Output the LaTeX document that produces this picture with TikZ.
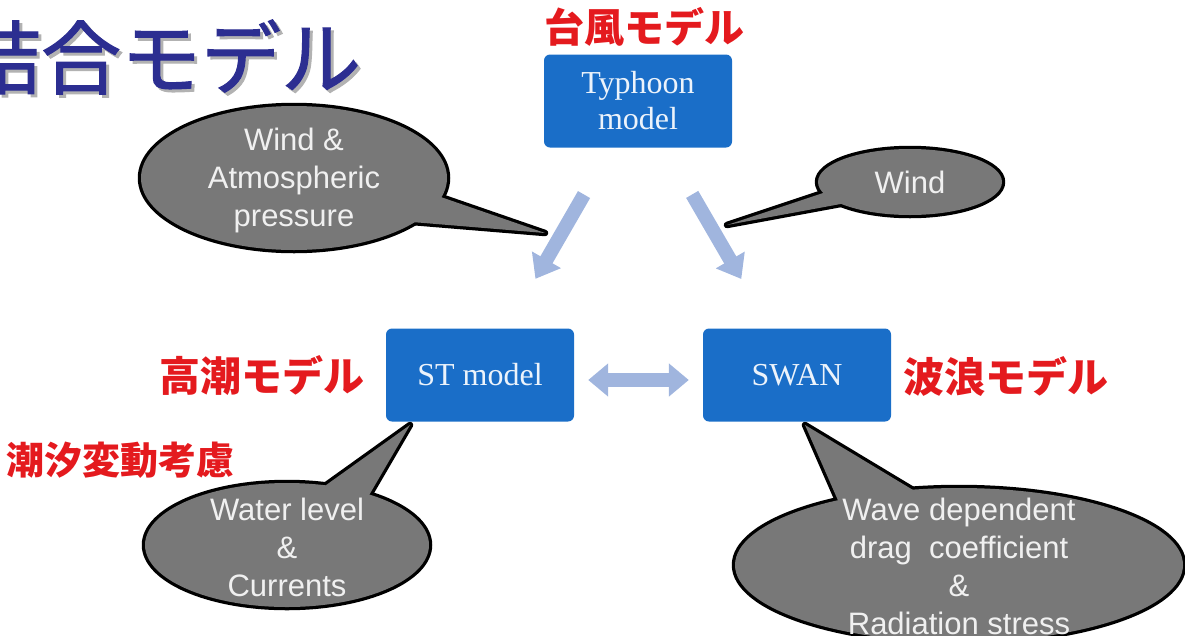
\documentclass[tikz,border=0pt]{standalone}
\usepackage{fontspec}
\setmainfont{Liberation Serif}
\setsansfont{Liberation Sans}
\newfontfamily\jp{Noto Sans CJK JP}
\newfontfamily\jptitle[FakeBold=1.3]{Noto Sans CJK JP}
\usetikzlibrary{arrows.meta}
\pgfdeclarelayer{back}
\pgfsetlayers{back,main}
\definecolor{boxblue}{RGB}{26,110,200}
\definecolor{boxtext}{RGB}{236,243,251}
\definecolor{flowblue}{RGB}{160,181,222}
\definecolor{notegray}{RGB}{120,120,120}
\definecolor{jpred}{RGB}{228,26,30}
\definecolor{titleblue}{RGB}{44,46,145}
\tikzset{
  model/.style={fill=boxblue,rounded corners=6pt,minimum width=188pt,minimum height=93pt,%
    text=boxtext,align=center,font=\fontsize{32}{36}\selectfont},
  jplabel/.style={text=jpred,inner sep=0pt,font=\jp\bfseries\fontsize{41}{45}\selectfont},
  note/.style={text=white!94!black,align=center,font=\sffamily\fontsize{31}{38}\selectfont},
  noteline/.style={draw=black,line width=6.5pt,line join=round},
  notefill/.style={fill=notegray},
  flow/.style={draw=flowblue,line width=14pt,-{Triangle[length=22pt,width=32pt]}},
  flowboth/.style={flow,{Triangle[length=20pt,width=32pt]}-{Triangle[length=20pt,width=32pt]}},
}
\begin{document}
\begin{tikzpicture}[x=1pt,y=-1pt]
  \useasboundingbox (0,0) rectangle (1185,635) ;
  \clip (0,0) rectangle (1185,635) ;
  % title
  \node[text=black!30,inner sep=0pt,font=\jptitle\fontsize{80}{90}\selectfont] (titleshadow) at (164,60) {結合モデル} ;
  \node[text=titleblue,inner sep=0pt,font=\jptitle\fontsize{80}{90}\selectfont] (title) at (161,57) {結合モデル} ;
  % models
  \node[model] (typhoon) at (638,101) {Typhoon\\model} ;
  \node[model] (st) at (480,375) {ST model} ;
  \node[model] (swan) at (797,375) {SWAN} ;
  \node[jplabel,font=\jp\bfseries\fontsize{40}{44}\selectfont] (typhoonjp) at (644,27) {台風モデル} ;
  \node[jplabel] (stjp) at (262,376) {高潮モデル} ;
  \node[jplabel] (swanjp) at (1006,376) {波浪モデル} ;
  \node[jplabel,font=\jp\bfseries\fontsize{38}{42}\selectfont] (tide) at (120,460) {潮汐変動考慮} ;
  \draw[flow,shorten <=108pt,shorten >=111pt] (typhoon.center) -- (st.center) ;
  \draw[flow,shorten <=108pt,shorten >=111pt] (typhoon.center) -- (swan.center) ;
  \draw[flowboth,shorten <=14pt,shorten >=14pt] ([yshift=-5pt]st.east) -- ([yshift=-5pt]swan.west) ;
  % callouts
  \node[note] (pressure) at (294,180) {Wind \&\\Atmospheric\\pressure} ;
  \node[note] (windnote) at (910,182) {Wind} ;
  \node[note] (water) at (287,547) {Water level\\\&\\Currents} ;
  \node[note] (drag) at (959,566) {Wave dependent\\drag\ \ coefficient\\\&\\Radiation stress} ;
  \coordinate (p1) at (545,233) ; \coordinate (p2) at (727,225) ;
  \coordinate (p3) at (410,425) ; \coordinate (p4) at (805,425) ;
  \begin{pgfonlayer}{back}
    \foreach \s in {noteline,notefill} {
      \path[\s] (294,178) ellipse [x radius=153pt,y radius=72pt] ;
      \path[\s] (910,182) ellipse [x radius=92pt,y radius=33pt] ;
      \path[\s] (287,545) ellipse [x radius=142pt,y radius=62pt] ;
      \path[\s] (959,565) ellipse [x radius=224pt,y radius=77pt] ;
      \path[\s] (435,195) -- (p1) -- (412,222) -- cycle ;
      \path[\s] (832,190) -- (p2) -- (846,203) -- cycle ;
      \path[\s] (322,488) -- (p3) -- (368,497) -- cycle ;
      \path[\s] (840,505) -- (p4) -- (918,493) -- cycle ;
    }
  \end{pgfonlayer}
\end{tikzpicture}
\end{document}
